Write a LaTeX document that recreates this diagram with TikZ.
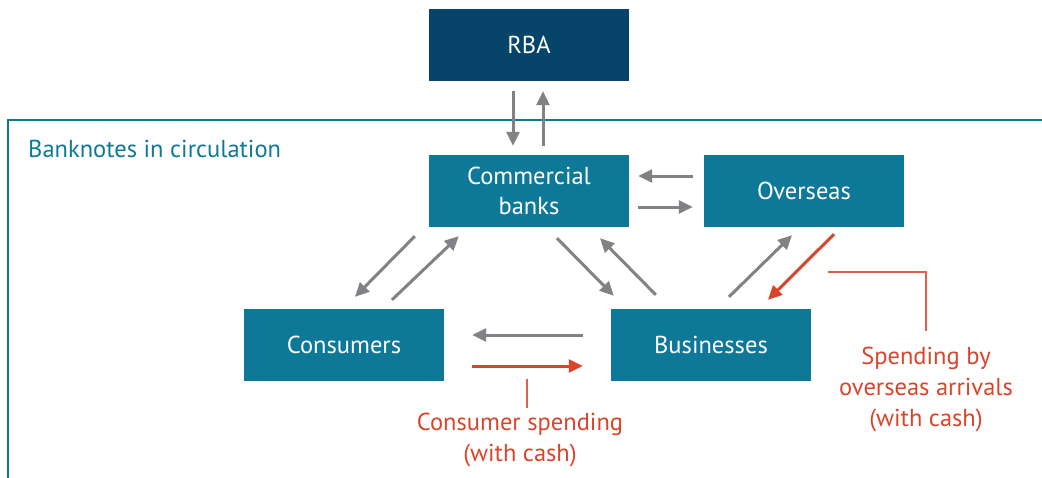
\documentclass[tikz,border=0pt]{standalone}
\usepackage{fontspec}
\setmainfont{PT Sans}
\usetikzlibrary{arrows.meta}
\definecolor{rbanavy}{RGB}{7,68,106}
\definecolor{boxteal}{RGB}{14,120,153}
\definecolor{flowgray}{RGB}{128,130,133}
\definecolor{cashred}{RGB}{216,69,42}

\begin{document}
\begin{tikzpicture}[x=1pt,y=-1pt,
    sector/.style={fill=boxteal,text=white,minimum width=200pt,minimum height=72pt,inner sep=0pt,align=center,font=\fontsize{24.5}{30}\selectfont},
    flow/.style={draw=flowgray,line width=3pt,-{Triangle[length=14pt,width=13pt]}},
    cashflow/.style={flow,draw=cashred},
    leader/.style={draw=cashred!85,line width=1.3pt},
    note/.style={text=cashred,align=center,inner sep=0pt,font=\fontsize{24.5}{31}\selectfont}]
    \useasboundingbox (0,0) rectangle (1042,477);
    % frame of the circulation area
    \draw[boxteal,line width=2.5pt] (8,480) -- (8,120) -- (1045,120);
    \node[anchor=base west,text=boxteal,inner sep=0pt,font=\fontsize{24.5}{30}\selectfont] (circ) at (28,157) {Banknotes in circulation};

    % sectors
    \node[sector,fill=rbanavy] (rba) at (529,45) {RBA};
    \node[sector] (banks) at (529,191) {Commercial\\banks};
    \node[sector] (overseas) at (804,191) {Overseas};
    \node[sector] (consumers) at (344,345) {Consumers};
    \node[sector] (business) at (711,345) {Businesses};

    % flows of banknotes
    \draw[flow] ([xshift=-16pt,yshift=-10pt]rba.south) -- ([xshift=-16pt,yshift=9pt]banks.north);
    \draw[flow] ([xshift=14pt,yshift=9pt]banks.north) -- ([xshift=14pt,yshift=-10pt]rba.south);
    \draw[flow] ([xshift=-11pt,yshift=15pt]overseas.west) -- ([xshift=9pt,yshift=15pt]banks.east);
    \draw[flow] ([xshift=9pt,yshift=-16pt]banks.east) -- ([xshift=-11pt,yshift=-16pt]overseas.west);
    \draw[flow] ([xshift=-14pt,yshift=-9pt]banks.south west) -- ([xshift=11pt,yshift=12pt]consumers.north);
    \draw[flow] ([xshift=48pt,yshift=9pt]consumers.north) -- ([xshift=30pt,yshift=-9pt]banks.south west);
    \draw[flow] ([xshift=28pt,yshift=-11pt]banks.south) -- ([xshift=3pt,yshift=13pt]business.north west);
    \draw[flow] ([xshift=45pt,yshift=14pt]business.north west) -- ([xshift=71pt,yshift=-11pt]banks.south);
    \draw[flow] ([xshift=18pt,yshift=12pt]business.north) -- ([xshift=-12pt,yshift=-8pt]overseas.south);
    \draw[cashflow] ([xshift=30pt,yshift=-7pt]overseas.south) -- ([xshift=57pt,yshift=9pt]business.north);
    \draw[flow] ([xshift=-28pt,yshift=10pt]business.west) -- ([xshift=28pt,yshift=10pt]consumers.east);
    \draw[cashflow] ([xshift=28pt,yshift=-21pt]consumers.east) -- ([xshift=-28pt,yshift=-21pt]business.west);

    % notes on cash spending
    \node[note,anchor=north] (cspend) at (520,413) {Consumer spending\\(with cash)};
    \node[note,anchor=north] (osspend) at (926,347) {Spending by\\overseas arrivals\\(with cash)};
    \coordinate (cs-top) at (527,379); \coordinate (os-end) at (828,272);
    \draw[leader] (cs-top) -- ([xshift=7pt,yshift=5pt]cspend.north);
    \draw[leader] (os-end) -| ([yshift=16pt]osspend.north);
\end{tikzpicture}
\end{document}
